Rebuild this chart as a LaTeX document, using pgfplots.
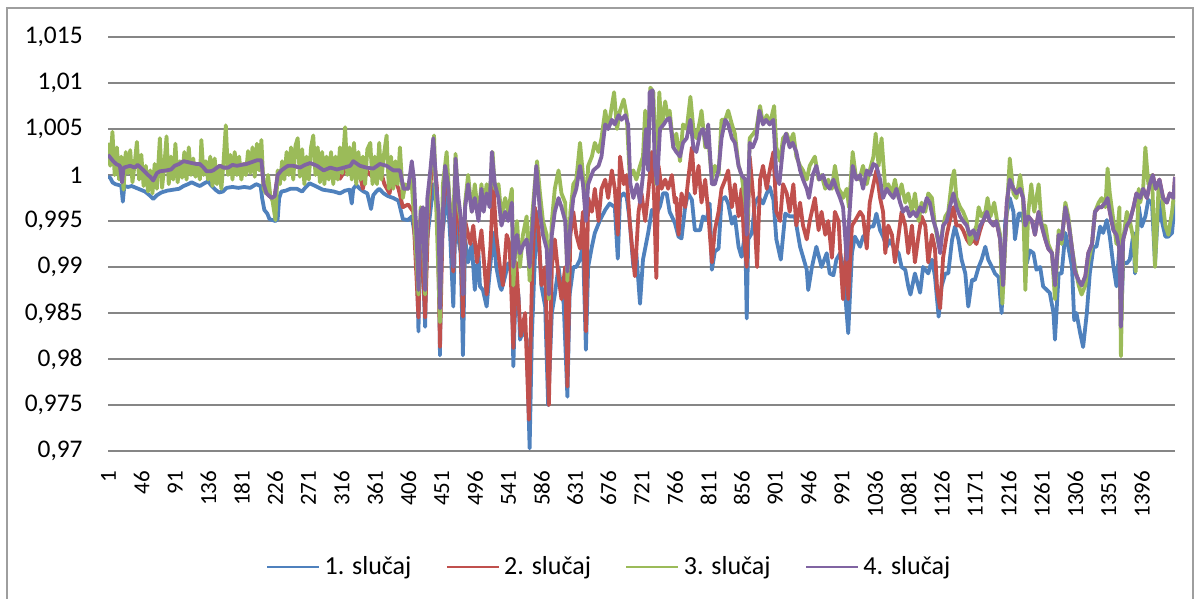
\documentclass[border=0pt]{standalone}
\usepackage{fontspec}
\setmainfont{Carlito}
\usepackage{pgfplots}
\pgfplotsset{compat=1.18}
\definecolor{s1}{RGB}{79,129,189}
\definecolor{s2}{RGB}{192,80,77}
\definecolor{s3}{RGB}{155,187,89}
\definecolor{s4}{RGB}{128,100,162}
\definecolor{gridc}{RGB}{134,134,134}
\begin{document}
\begin{tikzpicture}
\path[use as bounding box] (0,0) rectangle (600.5pt,299.5pt);
\draw[gridc!80, line width=0.6pt] (3.5pt,-5pt) -- (3.5pt,295.5pt) -- (596.5pt,295.5pt) -- (596.5pt,-5pt);
\begin{axis}[
 at={(54pt,74pt)}, anchor=south west,
 scale only axis, width=533.5pt, height=207pt,
 xmin=0, xmax=1440, ymin=0.97, ymax=1.015,
 axis line style={draw=none},
 clip=true,
 ytick={0.97,0.975,0.98,0.985,0.99,0.995,1,1.005,1.01,1.015},
 yticklabels={{0,97},{0,975},{0,98},{0,985},{0,99},{0,995},{1},{1,005},{1,01},{1,015}},
 ymajorgrids, grid style={gridc, line width=0.75pt},
 tick style={draw=none},
 xtick={0.5,45.5,90.5,135.5,180.5,225.5,270.5,315.5,360.5,405.5,450.5,495.5,540.5,585.5,630.5,675.5,720.5,765.5,810.5,855.5,900.5,945.5,990.5,1035.5,1080.5,1125.5,1170.5,1215.5,1260.5,1305.5,1350.5,1395.5},
 xticklabels={1,46,91,136,181,226,271,316,361,406,451,496,541,586,631,676,721,766,811,856,901,946,991,1036,1081,1126,1171,1216,1261,1306,1351,1396},
 yticklabel style={anchor=east, inner sep=0pt, xshift=-12.5pt, font=\fontsize{12.7}{15}\selectfont},
 xticklabel style={rotate=90, anchor=east, inner sep=0pt, font=\fontsize{11.5}{14}\selectfont},
 xticklabel shift=9.75pt,
 every axis plot/.append style={line width=1.9pt, line join=round, no markers},
 legend style={at={(0.4705,-0.28)}, anchor=center, draw=none, fill=none, legend columns=4, font=\fontsize{13}{15}\selectfont, /tikz/every even column/.append style={column sep=15pt}},
 legend image code/.code={\draw[#1, line width=1.4pt, line cap=butt] (0pt,0pt) -- (26pt,0pt);},
]
% 1. slucaj
\addplot[s1] coordinates {(0,0.9998) (3,0.9997) (6,0.9992) (10,0.9990) (15,0.9989) (18,0.9988) (20,0.9971) (22,0.9988) (27,0.9987) (32,0.9988) (38,0.9986) (44,0.9984) (50,0.9982) (56,0.9978) (61,0.9974) (66,0.9978) (72,0.9981) (80,0.9983) (88,0.9984) (96,0.9985) (102,0.9988) (108,0.9990) (113,0.9992) (118,0.9990) (124,0.9988) (130,0.9991) (135,0.9993) (140,0.9988) (145,0.9984) (150,0.9981) (155,0.9982) (160,0.9986) (168,0.9987) (176,0.9986) (184,0.9987) (192,0.9986) (200,0.9990) (206,0.9988) (208,0.9975) (211,0.9962) (215,0.9958) (218,0.9952) (222,0.9951) (226,0.9950) (229,0.9952) (231,0.9975) (234,0.9982) (240,0.9983) (246,0.9985) (255,0.9985) (262,0.9982) (266,0.9986) (272,0.9991) (280,0.9988) (290,0.9984) (298,0.9983) (305,0.9982) (313,0.9980) (320,0.9983) (326,0.9984) (329,0.9969) (331,0.9985) (335,0.9989) (340,0.9985) (345,0.9982) (350,0.9980) (355,0.9963) (358,0.9978) (362,0.9982) (366,0.9985) (372,0.9980) (378,0.9977) (385,0.9975) (392,0.9972) (395,0.9962) (398,0.9952) (405,0.9951) (410,0.9955) (414,0.9935) (417,0.9900) (419,0.9830) (421,0.9920) (423,0.9930) (425,0.9900) (428,0.9835) (430,0.9925) (435,0.9960) (439,0.9990) (442,0.9975) (446,0.9950) (448,0.9804) (450,0.9930) (455,0.9960) (458,0.9985) (462,0.9930) (466,0.9857) (469,0.9955) (473,0.9930) (476,0.9915) (479,0.9804) (482,0.9930) (486,0.9905) (491,0.9925) (495,0.9875) (500,0.9915) (502,0.9879) (506,0.9875) (511,0.9857) (515,0.9893) (520,0.9937) (524,0.9900) (529,0.9879) (531,0.9875) (536,0.9890) (540,0.9904) (545,0.9893) (547,0.9792) (549,0.9845) (554,0.9870) (556,0.9821) (560,0.9830) (565,0.9822) (569,0.9703) (572,0.9824) (576,0.9908) (579,0.9960) (585,0.9879) (590,0.9857) (594,0.9750) (599,0.9850) (603,0.9870) (608,0.9900) (612,0.9875) (615,0.9860) (620,0.9759) (623,0.9870) (628,0.9900) (632,0.9900) (637,0.9908) (641,0.9925) (645,0.9810) (648,0.9900) (653,0.9922) (657,0.9937) (664,0.9951) (671,0.9962) (677,0.9969) (684,0.9965) (688,0.9909) (691,0.9976) (696,0.9980) (700,0.9976) (704,0.9951) (709,0.9900) (713,0.9915) (718,0.9860) (722,0.9908) (729,0.9937) (734,0.9962) (740,0.9958) (745,0.9966) (749,0.9980) (754,0.9980) (758,0.9960) (765,0.9948) (770,0.9933) (774,0.9931) (779,0.9966) (783,0.9980) (788,0.9973) (792,0.9940) (799,0.9940) (803,0.9955) (808,0.9951) (812,0.9969) (815,0.9897) (819,0.9917) (824,0.9920) (828,0.9973) (833,0.9976) (837,0.9969) (842,0.9947) (846,0.9955) (851,0.9922) (855,0.9911) (860,0.9937) (862,0.9844) (864,0.9930) (869,0.9937) (873,0.9969) (878,0.9976) (884,0.9969) (889,0.9980) (893,0.9987) (898,0.9973) (902,0.9930) (908,0.9908) (914,0.9958) (920,0.9955) (927,0.9955) (934,0.9922) (938,0.9911) (943,0.9897) (945,0.9875) (950,0.9900) (956,0.9922) (963,0.9900) (970,0.9915) (974,0.9893) (979,0.9891) (983,0.9908) (988,0.9915) (992,0.9900) (999,0.9828) (1004,0.9915) (1008,0.9933) (1015,0.9922) (1019,0.9933) (1024,0.9937) (1028,0.9944) (1033,0.9944) (1037,0.9958) (1042,0.9940) (1046,0.9933) (1051,0.9922) (1055,0.9929) (1060,0.9922) (1067,0.9915) (1071,0.9900) (1076,0.9897) (1080,0.9879) (1083,0.9870) (1089,0.9893) (1096,0.9872) (1100,0.9900) (1107,0.9893) (1112,0.9908) (1116,0.9890) (1121,0.9846) (1125,0.9879) (1130,0.9893) (1134,0.9893) (1139,0.9929) (1143,0.9944) (1148,0.9929) (1152,0.9908) (1157,0.9893) (1161,0.9857) (1166,0.9886) (1170,0.9886) (1175,0.9900) (1179,0.9908) (1184,0.9922) (1188,0.9908) (1193,0.9900) (1197,0.9893) (1202,0.9889) (1206,0.9850) (1211,0.9951) (1215,0.9966) (1217,0.9975) (1222,0.9960) (1224,0.9930) (1229,0.9958) (1233,0.9958) (1238,0.9940) (1240,0.9904) (1244,0.9918) (1249,0.9915) (1253,0.9897) (1258,0.9900) (1262,0.9879) (1267,0.9875) (1271,0.9872) (1276,0.9850) (1278,0.9821) (1283,0.9893) (1287,0.9893) (1292,0.9937) (1296,0.9922) (1301,0.9900) (1304,0.9842) (1307,0.9850) (1312,0.9828) (1316,0.9813) (1321,0.9850) (1325,0.9893) (1330,0.9922) (1334,0.9922) (1339,0.9944) (1343,0.9937) (1348,0.9951) (1352,0.9933) (1357,0.9900) (1361,0.9879) (1365,0.9922) (1367,0.9835) (1370,0.9905) (1375,0.9904) (1379,0.9908) (1384,0.9937) (1386,0.9893) (1391,0.9966) (1395,0.9944) (1400,0.9955) (1404,0.9973) (1409,0.9969) (1413,0.9904) (1418,0.9973) (1422,0.9951) (1427,0.9933) (1431,0.9933) (1436,0.9937) (1440,0.9973)};
% 2. slucaj
\addplot[s2] coordinates {(0,1.0022) (2,1.0020) (7,1.0015) (11,1.0012) (16,1.0010) (19,0.9992) (21,1.0008) (30,1.0010) (36,1.0008) (40,1.0011) (48,1.0005) (54,1.0000) (57,0.9998) (61,0.9994) (66,1.0002) (70,1.0004) (79,1.0005) (85,1.0006) (90,1.0010) (96,1.0012) (102,1.0015) (108,1.0014) (113,1.0013) (119,1.0012) (124,1.0012) (129,1.0008) (133,1.0004) (138,1.0004) (142,1.0005) (147,1.0008) (151,1.0010) (156,1.0008) (162,1.0008) (168,1.0011) (174,1.0010) (180,1.0011) (187,1.0012) (194,1.0014) (201,1.0016) (207,1.0016) (210,0.9990) (214,0.9980) (218,0.9977) (221,0.9975) (225,0.9977) (229,1.0000) (234,1.0005) (239,1.0008) (243,1.0010) (250,1.0010) (259,1.0008) (266,1.0011) (273,1.0013) (282,1.0010) (291,1.0005) (300,1.0005) (313,0.9996) (320,1.0005) (331,1.0012) (340,1.0000) (344,0.9985) (349,1.0005) (360,0.9995) (367,1.0008) (373,0.9990) (380,0.9980) (385,1.0000) (392,0.9985) (398,0.9965) (405,0.9968) (412,0.9960) (419,0.9845) (422,0.9955) (428,0.9845) (432,0.9950) (437,1.0010) (440,1.0020) (444,0.9985) (448,0.9813) (452,0.9960) (457,1.0005) (462,0.9960) (466,0.9895) (471,0.9990) (475,0.9940) (479,0.9846) (482,0.9950) (489,0.9925) (493,0.9945) (498,0.9905) (504,0.9940) (511,0.9870) (516,0.9920) (520,0.9990) (524,0.9935) (529,0.9900) (533,0.9880) (538,0.9935) (542,0.9925) (547,0.9812) (551,0.9905) (557,0.9825) (563,0.9850) (568,0.9734) (572,0.9880) (576,0.9965) (581,0.9940) (585,0.9880) (590,0.9900) (595,0.9750) (599,0.9900) (603,0.9930) (608,0.9890) (612,0.9865) (617,0.9900) (620,0.9770) (624,0.9935) (628,0.9960) (632,0.9935) (637,0.9920) (641,0.9960) (645,0.9830) (648,0.9975) (653,0.9960) (657,0.9985) (662,0.9950) (666,0.9985) (671,0.9995) (675,0.9975) (680,1.0005) (684,0.9985) (688,0.9935) (691,1.0020) (696,0.9990) (700,1.0000) (704,0.9950) (708,0.9915) (711,0.9890) (716,0.9960) (720,0.9980) (725,0.9950) (729,0.9980) (734,1.0025) (737,0.9975) (740,0.9888) (743,1.0010) (747,0.9985) (752,0.9995) (756,0.9985) (761,1.0000) (765,0.9970) (767,0.9975) (770,0.9935) (774,0.9980) (779,0.9965) (783,0.9995) (788,1.0030) (792,0.9980) (797,1.0010) (801,0.9970) (806,0.9995) (810,0.9960) (815,0.9905) (819,0.9940) (824,0.9960) (828,0.9985) (833,0.9995) (837,1.0005) (842,0.9965) (846,0.9990) (851,0.9955) (855,0.9985) (858,0.9935) (862,0.9900) (866,1.0020) (871,0.9975) (876,0.9900) (880,0.9995) (884,1.0010) (889,0.9985) (893,1.0005) (898,1.0025) (902,0.9960) (907,0.9950) (911,0.9990) (916,0.9980) (920,0.9960) (925,0.9990) (929,0.9945) (934,0.9970) (938,0.9945) (943,0.9930) (947,0.9950) (954,0.9975) (959,0.9940) (963,0.9960) (968,0.9935) (972,0.9950) (977,0.9910) (981,0.9960) (986,0.9950) (990,0.9890) (992,0.9865) (997,0.9930) (999,0.9865) (1004,0.9945) (1008,0.9950) (1015,0.9960) (1019,0.9955) (1024,0.9920) (1028,0.9970) (1033,0.9990) (1037,1.0005) (1042,0.9975) (1046,0.9960) (1049,0.9915) (1053,0.9945) (1058,0.9935) (1062,0.9905) (1067,0.9935) (1071,0.9960) (1076,0.9945) (1080,0.9915) (1085,0.9945) (1089,0.9905) (1094,0.9935) (1098,0.9955) (1103,0.9945) (1107,0.9905) (1112,0.9935) (1116,0.9920) (1119,0.9875) (1123,0.9855) (1127,0.9910) (1132,0.9935) (1136,0.9950) (1141,0.9965) (1145,0.9945) (1150,0.9945) (1154,0.9940) (1159,0.9930) (1163,0.9925) (1168,0.9930) (1172,0.9925) (1177,0.9940) (1181,0.9950) (1186,0.9960) (1190,0.9950) (1195,0.9945) (1199,0.9950) (1204,0.9930) (1208,0.9880) (1213,0.9970) (1217,0.9995) (1222,0.9985) (1226,0.9980) (1231,0.9985) (1235,0.9975) (1238,0.9945) (1242,0.9955) (1247,0.9950) (1251,0.9935) (1256,0.9960) (1260,0.9945) (1265,0.9930) (1269,0.9920) (1274,0.9915) (1278,0.9880) (1283,0.9935) (1287,0.9930) (1292,0.9965) (1296,0.9950) (1301,0.9920) (1305,0.9895) (1310,0.9885) (1314,0.9880) (1319,0.9890) (1323,0.9915) (1328,0.9925) (1332,0.9960) (1337,0.9965) (1341,0.9965) (1346,0.9970) (1349,0.9975) (1352,0.9960) (1357,0.9940) (1361,0.9935) (1365,0.9920) (1367,0.9835) (1370,0.9930) (1375,0.9945) (1379,0.9950) (1384,0.9965) (1388,0.9980) (1393,0.9975) (1397,0.9985) (1402,0.9975) (1406,0.9990) (1410,1.0000) (1414,0.9985) (1419,0.9995) (1424,0.9975) (1429,0.9970) (1433,0.9980) (1438,0.9975) (1440,0.9998)};
% 3. slucaj
\addplot[s3] coordinates {(0,1.0035) (3,1.0010) (6,1.0047) (9,1.0000) (12,1.0030) (15,0.9995) (18,1.0020) (21,0.9984) (24,1.0025) (27,1.0002) (30,1.0027) (33,0.9992) (36,1.0012) (39,1.0036) (42,0.9995) (45,1.0022) (48,0.9988) (51,1.0010) (54,0.9982) (57,1.0005) (60,0.9980) (63,1.0012) (66,0.9985) (70,1.0040) (73,0.9986) (76,1.0010) (79,1.0042) (82,0.9990) (85,1.0020) (88,0.9995) (91,1.0034) (94,0.9992) (97,1.0015) (100,0.9997) (103,1.0025) (106,0.9995) (109,1.0030) (112,1.0000) (115,1.0018) (118,0.9998) (121,1.0012) (124,0.9995) (126,1.0038) (129,1.0000) (132,1.0015) (135,0.9995) (138,1.0020) (141,0.9988) (144,1.0018) (147,0.9990) (150,1.0010) (153,0.9985) (156,1.0015) (159,1.0054) (162,1.0000) (165,1.0022) (168,0.9995) (171,1.0025) (174,1.0000) (177,1.0020) (180,0.9995) (183,1.0012) (186,1.0000) (189,1.0026) (192,1.0002) (195,1.0030) (198,0.9998) (201,1.0034) (204,1.0005) (207,1.0038) (210,0.9985) (213,0.9980) (216,1.0000) (219,0.9978) (222,0.9972) (226,0.9951) (229,1.0005) (232,0.9990) (235,1.0015) (238,0.9995) (241,1.0025) (244,1.0000) (247,1.0030) (250,0.9995) (253,1.0032) (256,1.0040) (259,0.9998) (262,1.0028) (265,0.9990) (268,1.0020) (271,0.9995) (274,1.0030) (277,1.0043) (280,1.0000) (283,1.0030) (286,0.9992) (289,1.0025) (292,0.9990) (295,1.0020) (298,0.9995) (301,1.0025) (304,0.9990) (307,1.0020) (310,0.9995) (313,1.0030) (316,1.0002) (320,1.0052) (323,1.0000) (326,1.0030) (329,0.9995) (332,1.0035) (335,0.9990) (338,1.0025) (341,0.9995) (344,1.0020) (347,0.9990) (350,1.0028) (354,1.0035) (357,0.9990) (360,1.0020) (363,0.9990) (366,1.0035) (369,0.9995) (372,1.0020) (376,1.0043) (379,0.9985) (382,1.0020) (385,0.9985) (388,1.0015) (391,0.9990) (394,1.0030) (398,0.9975) (401,0.9990) (405,0.9985) (409,1.0000) (413,0.9955) (419,0.9870) (422,0.9965) (425,0.9960) (428,0.9870) (431,0.9955) (435,1.0000) (440,1.0043) (442,0.9990) (448,0.9840) (452,0.9990) (457,1.0025) (461,0.9970) (466,0.9950) (469,1.0023) (473,0.9965) (476,0.9950) (479,0.9880) (482,0.9970) (486,1.0000) (491,0.9960) (495,0.9990) (500,0.9955) (504,0.9990) (507,0.9965) (511,0.9990) (515,0.9975) (519,1.0025) (522,0.9985) (527,0.9990) (531,0.9955) (536,0.9975) (540,0.9960) (545,0.9985) (547,0.9880) (552,0.9950) (556,0.9900) (560,0.9935) (565,0.9955) (569,0.9885) (572,0.9950) (576,0.9990) (579,1.0015) (583,0.9980) (587,0.9950) (592,0.9935) (595,0.9865) (599,0.9950) (603,0.9985) (608,1.0005) (612,0.9980) (617,0.9970) (620,0.9885) (624,0.9960) (628,0.9990) (632,0.9995) (637,1.0035) (641,1.0000) (645,0.9955) (648,1.0010) (653,1.0020) (657,1.0035) (662,1.0025) (666,1.0040) (671,1.0070) (675,1.0050) (680,1.0075) (683,1.0090) (687,1.0050) (691,1.0070) (696,1.0082) (700,1.0065) (704,1.0000) (709,1.0005) (713,0.9995) (718,1.0010) (722,1.0020) (725,1.0070) (729,1.0020) (732,1.0095) (736,1.0090) (740,0.9990) (744,1.0090) (747,1.0050) (752,1.0080) (756,1.0060) (758,1.0070) (763,1.0030) (767,1.0045) (772,1.0015) (776,1.0055) (781,1.0050) (786,1.0085) (790,1.0050) (794,1.0040) (799,1.0060) (801,1.0070) (806,1.0030) (810,1.0040) (815,0.9995) (819,1.0010) (824,1.0000) (828,1.0060) (833,1.0060) (837,1.0070) (842,1.0055) (846,1.0045) (851,1.0010) (855,1.0000) (860,0.9970) (863,0.9940) (866,1.0040) (871,1.0045) (875,1.0050) (880,1.0075) (884,1.0055) (889,1.0065) (893,1.0055) (899,1.0075) (902,1.0030) (907,1.0015) (911,1.0040) (916,1.0045) (920,1.0035) (925,1.0045) (929,1.0020) (934,1.0010) (938,1.0005) (943,0.9995) (947,1.0010) (954,1.0020) (959,0.9995) (963,1.0000) (968,0.9985) (972,0.9995) (977,0.9985) (981,1.0010) (986,0.9985) (990,0.9980) (992,0.9975) (997,0.9985) (1000,0.9965) (1005,1.0025) (1009,1.0000) (1014,0.9995) (1019,1.0010) (1024,0.9990) (1028,1.0005) (1033,1.0020) (1036,1.0045) (1040,1.0010) (1044,1.0040) (1049,0.9985) (1053,0.9990) (1058,0.9980) (1062,0.9995) (1067,0.9975) (1071,0.9990) (1076,0.9970) (1080,0.9980) (1085,0.9960) (1089,0.9980) (1094,0.9950) (1098,0.9970) (1103,0.9960) (1107,0.9980) (1112,0.9975) (1116,0.9945) (1121,0.9925) (1125,0.9935) (1130,0.9955) (1134,0.9960) (1139,0.9995) (1142,1.0005) (1145,0.9975) (1150,0.9965) (1154,0.9960) (1159,0.9950) (1163,0.9925) (1168,0.9935) (1172,0.9945) (1175,0.9965) (1179,0.9955) (1184,0.9960) (1187,0.9975) (1191,0.9955) (1196,0.9970) (1200,0.9950) (1204,0.9935) (1207,0.9860) (1213,0.9960) (1217,1.0018) (1222,0.9980) (1226,0.9975) (1231,1.0000) (1235,0.9975) (1238,0.9875) (1242,0.9960) (1246,0.9990) (1250,0.9960) (1256,0.9990) (1260,0.9945) (1265,0.9945) (1269,0.9925) (1274,0.9915) (1278,0.9865) (1283,0.9940) (1287,0.9925) (1292,0.9970) (1296,0.9955) (1301,0.9920) (1305,0.9900) (1310,0.9880) (1314,0.9870) (1319,0.9880) (1323,0.9905) (1328,0.9925) (1332,0.9960) (1337,0.9970) (1341,0.9975) (1346,0.9965) (1349,1.0007) (1352,0.9980) (1357,0.9950) (1361,0.9925) (1365,0.9965) (1367,0.9803) (1370,0.9930) (1375,0.9960) (1379,0.9950) (1384,0.9930) (1387,0.9895) (1391,0.9985) (1393,0.9970) (1397,0.9985) (1400,1.0030) (1404,0.9990) (1409,1.0000) (1413,0.9900) (1418,0.9990) (1422,0.9980) (1427,0.9945) (1431,0.9935) (1436,0.9960) (1440,0.9990)};
% 4. slucaj
\addplot[s4] coordinates {(0,1.0022) (2,1.0020) (7,1.0015) (11,1.0012) (16,1.0010) (19,0.9992) (21,1.0008) (30,1.0010) (36,1.0008) (40,1.0011) (48,1.0005) (54,1.0000) (57,0.9998) (61,0.9994) (66,1.0002) (70,1.0004) (79,1.0005) (85,1.0006) (90,1.0010) (96,1.0012) (102,1.0015) (108,1.0014) (113,1.0013) (119,1.0012) (124,1.0012) (129,1.0008) (133,1.0004) (138,1.0004) (142,1.0005) (147,1.0008) (151,1.0010) (156,1.0008) (162,1.0008) (168,1.0011) (174,1.0010) (180,1.0011) (187,1.0012) (194,1.0014) (201,1.0016) (207,1.0016) (210,0.9990) (214,0.9980) (218,0.9977) (221,0.9975) (225,0.9977) (229,1.0000) (234,1.0005) (239,1.0008) (243,1.0010) (250,1.0010) (259,1.0008) (266,1.0011) (273,1.0013) (282,1.0010) (291,1.0005) (300,1.0008) (309,1.0006) (318,1.0008) (327,1.0010) (331,1.0015) (340,1.0010) (349,1.0008) (358,1.0007) (367,1.0012) (376,1.0010) (385,1.0005) (394,1.0005) (399,0.9985) (405,0.9985) (410,1.0015) (413,0.9995) (417,0.9920) (419,0.9875) (422,0.9960) (425,0.9965) (428,0.9875) (431,0.9975) (435,1.0005) (439,1.0040) (443,0.9990) (446,0.9960) (448,0.9855) (452,0.9960) (455,1.0010) (459,0.9990) (462,0.9950) (466,0.9900) (469,1.0018) (473,0.9975) (476,0.9955) (479,0.9870) (482,0.9965) (486,0.9990) (491,0.9960) (495,0.9975) (500,0.9950) (504,0.9985) (507,0.9960) (511,0.9980) (515,0.9965) (518,1.0025) (522,0.9990) (527,0.9975) (531,0.9945) (536,0.9960) (540,0.9950) (545,0.9970) (547,0.9900) (552,0.9935) (556,0.9915) (561,0.9925) (565,0.9930) (569,0.9900) (573,0.9945) (578,1.0010) (583,0.9960) (587,0.9935) (592,0.9920) (595,0.9870) (599,0.9935) (603,0.9960) (608,0.9975) (612,0.9965) (617,0.9950) (620,0.9895) (624,0.9945) (628,0.9975) (632,0.9985) (637,1.0010) (641,0.9990) (645,0.9950) (648,0.9990) (655,1.0005) (662,1.0010) (666,1.0020) (671,1.0055) (675,1.0050) (680,1.0060) (684,1.0055) (689,1.0065) (693,1.0060) (698,1.0065) (702,1.0055) (705,0.9990) (709,0.9975) (714,0.9990) (718,0.9970) (722,1.0000) (726,1.0050) (729,1.0005) (731,1.0090) (735,1.0092) (738,1.0010) (741,0.9990) (745,1.0050) (750,1.0055) (754,1.0060) (758,1.0062) (763,1.0030) (767,1.0025) (772,1.0020) (776,1.0035) (781,1.0040) (786,1.0060) (790,1.0030) (794,1.0025) (799,1.0045) (803,1.0050) (808,1.0030) (810,1.0055) (815,0.9990) (819,0.9990) (824,1.0005) (828,1.0040) (833,1.0060) (837,1.0055) (842,1.0040) (846,1.0035) (851,1.0010) (855,1.0000) (860,0.9995) (862,0.9935) (866,1.0035) (870,1.0030) (875,1.0040) (879,1.0070) (884,1.0055) (888,1.0060) (893,1.0055) (898,1.0060) (902,1.0000) (906,0.9990) (911,1.0030) (915,1.0045) (920,1.0030) (924,1.0035) (929,1.0025) (934,1.0005) (938,0.9995) (943,0.9985) (946,0.9975) (951,1.0000) (956,1.0010) (960,0.9995) (965,1.0000) (969,0.9990) (974,0.9985) (979,0.9995) (983,0.9985) (988,0.9975) (992,0.9965) (997,0.9908) (1000,0.9950) (1005,1.0010) (1010,0.9995) (1015,1.0000) (1019,0.9985) (1024,1.0005) (1028,1.0000) (1033,1.0012) (1037,1.0010) (1042,0.9995) (1046,0.9975) (1051,0.9985) (1055,0.9980) (1060,0.9975) (1064,0.9985) (1069,0.9970) (1073,0.9960) (1078,0.9965) (1082,0.9955) (1087,0.9960) (1091,0.9955) (1096,0.9965) (1100,0.9960) (1105,0.9975) (1109,0.9970) (1114,0.9950) (1118,0.9940) (1123,0.9915) (1127,0.9945) (1132,0.9950) (1136,0.9965) (1141,0.9980) (1145,0.9965) (1150,0.9955) (1154,0.9950) (1159,0.9945) (1163,0.9935) (1168,0.9940) (1172,0.9930) (1177,0.9945) (1181,0.9950) (1186,0.9960) (1190,0.9950) (1195,0.9945) (1199,0.9950) (1204,0.9930) (1208,0.9880) (1213,0.9970) (1217,0.9995) (1222,0.9985) (1226,0.9980) (1231,0.9985) (1235,0.9975) (1238,0.9945) (1242,0.9955) (1247,0.9950) (1251,0.9935) (1256,0.9960) (1260,0.9945) (1265,0.9930) (1269,0.9920) (1274,0.9915) (1278,0.9880) (1283,0.9935) (1287,0.9930) (1292,0.9965) (1296,0.9950) (1301,0.9920) (1305,0.9895) (1310,0.9885) (1314,0.9880) (1319,0.9890) (1323,0.9915) (1328,0.9925) (1332,0.9960) (1337,0.9965) (1341,0.9965) (1346,0.9970) (1349,0.9975) (1352,0.9960) (1357,0.9940) (1361,0.9935) (1365,0.9920) (1367,0.9835) (1370,0.9930) (1375,0.9945) (1379,0.9950) (1384,0.9965) (1388,0.9980) (1393,0.9975) (1397,0.9985) (1402,0.9975) (1406,0.9990) (1410,1.0000) (1414,0.9985) (1419,0.9995) (1424,0.9975) (1429,0.9970) (1433,0.9980) (1438,0.9975) (1440,0.9998)};
\legend{1. slučaj,2. slučaj,3. slučaj,4. slučaj}
\end{axis}
\end{tikzpicture}
\end{document}
